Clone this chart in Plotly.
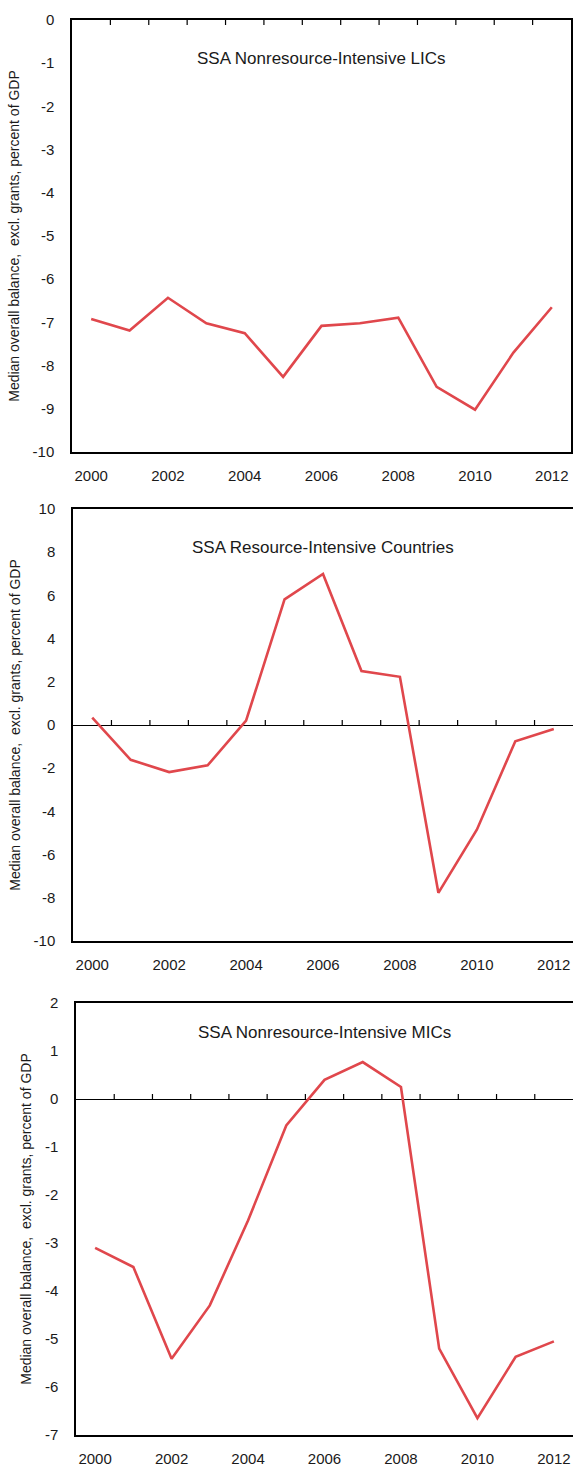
import plotly.graph_objects as go

years = list(range(2000, 2013))
lics = [-6.92, -7.19, -6.43, -7.02, -7.25, -8.26, -7.08, -7.02, -6.89, -8.49, -9.02, -7.70, -6.65]
resource = [0.34, -1.61, -2.18, -1.87, 0.20, 5.82, 6.99, 2.50, 2.23, -7.77, -4.85, -0.75, -0.18]
mics = [-3.10, -3.50, -5.41, -4.30, -2.53, -0.55, 0.40, 0.77, 0.25, -5.20, -6.65, -5.37, -5.05]

titles = ["SSA Nonresource-Intensive LICs", "SSA Resource-Intensive Countries", "SSA Nonresource-Intensive MICs"]
series = [lics, resource, mics]
y_ranges = [[-10, 0], [-10, 10], [-7, 2]]
y_tickvals = [list(range(-10, 1, 1)), list(range(-10, 11, 2)), list(range(-7, 3, 1))]
ytitle = "Median overall balance,\u00a0 excl. grants, percent of GDP"
label_years = [y for y in years if y % 2 == 0]
boundaries = [y + 0.5 for y in years[:-1]]

W, H = 573, 1468
# pixel layout of panels: (left, right, top, bottom)
panels = [(72, 571, 20, 452), (73, 573, 509, 941), (76, 573, 1003, 1435)]
title_shift = [-27, -27, -18]

FONT = "Liberation Sans Narrow, Arial Narrow, Liberation Sans, Arial, sans-serif"
RED = "#E0474C"
TXT = "#1a1a1a"

fig = go.Figure()
for i in range(3):
    l, r, t, b = panels[i]
    xa = "xaxis" if i == 0 else f"xaxis{i+1}"
    ya = "yaxis" if i == 0 else f"yaxis{i+1}"
    xr = "x" if i == 0 else f"x{i+1}"
    yr = "y" if i == 0 else f"y{i+1}"
    fig.add_trace(go.Scatter(x=years, y=series[i], mode="lines",
                             line=dict(color=RED, width=2.6),
                             xaxis=xr, yaxis=yr, showlegend=False, hoverinfo="x+y"))
    fig.layout[xa] = dict(domain=[l / W, r / W], anchor=yr, range=[1999.5, 2012.5],
                          tickmode="array", tickvals=label_years,
                          ticktext=[str(v) for v in label_years], ticks="",
                          showline=True, linecolor="black", linewidth=1.5, mirror=True,
                          showgrid=False, zeroline=False, ticklabelstandoff=9,
                          automargin=False,
                          tickfont=dict(family=FONT, size=15, color=TXT))
    fig.layout[ya] = dict(domain=[1 - b / H, 1 - t / H], anchor=xr, range=y_ranges[i],
                          tickmode="array", tickvals=y_tickvals[i],
                          ticktext=[str(v) for v in y_tickvals[i]], ticks="",
                          showline=True, linecolor="black", linewidth=1.5, mirror=True,
                          showgrid=False, zeroline=True, zerolinecolor="black", zerolinewidth=1.2,
                          ticklabelstandoff=13, automargin=False,
                          tickfont=dict(family=FONT, size=15, color=TXT),
                          title=dict(text=ytitle, standoff=10,
                                     font=dict(family=FONT, size=14, color=TXT)))
    # tick marks at category boundaries on the zero line
    direction = -5 if y_ranges[i][1] == 0 else 5
    for bx in boundaries:
        fig.add_shape(type="line", xref=xr, yref=yr, x0=bx, x1=bx,
                      ysizemode="pixel", yanchor=0, y0=0, y1=direction,
                      line=dict(color="black", width=1.2))
    fig.add_annotation(xref=f"{xr} domain", yref=f"{yr} domain", x=0.5, y=1,
                       yshift=title_shift[i], yanchor="top", showarrow=False,
                       text=titles[i], font=dict(family=FONT, size=17, color=TXT))

fig.update_layout(width=W, height=H, margin=dict(l=0, r=0, t=0, b=0, autoexpand=False),
                  plot_bgcolor="white", paper_bgcolor="white", template="none")
fig.write_html("out.html", config={"displayModeBar": False},
               post_script="document.body.style.margin='0';")
